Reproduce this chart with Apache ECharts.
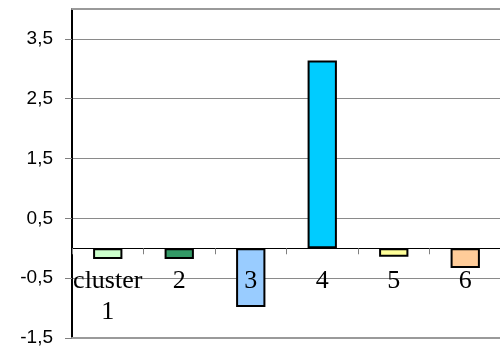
<!DOCTYPE html>
<html>
<head>
<meta charset="utf-8">
<script src="https://cdn.jsdelivr.net/npm/echarts@6/dist/echarts.min.js"></script>
<style>
  html, body { margin: 0; padding: 0; background: #fff; }
  #chart { width: 500px; height: 347px; }
</style>
</head>
<body>
<div id="chart"></div>
<script>
// Cluster scores
const categories = ['cluster\n1', '2', '3', '4', '5', '6'];
const values = [-0.18, -0.18, -0.98, 3.14, -0.14, -0.33];
const barColors = ['#CCFFCC', '#339966', '#99CCFF', '#00CCFF', '#FFFF99', '#FFCC99'];

// Value axis ticks and their printed labels (decimal comma)
const yTicks = [-1.5, -0.5, 0.5, 1.5, 2.5, 3.5];
const yTickLabels = ['-1,5', '-0,5', '0,5', '1,5', '2,5', '3,5'];
const yMin = -1.5;
const yMax = 4;

const chart = echarts.init(document.getElementById('chart'), null, { renderer: 'canvas' });

chart.setOption({
  animation: false,
  grid: { left: 72, right: -1, top: 9, bottom: 9, containLabel: false, outerBoundsMode: 'none' },
  xAxis: [
    {
      // category axis drawn along the zero line (shifted up after layout)
      type: 'category',
      data: categories,
      position: 'bottom',
      offset: 0,
      axisLine: { onZero: false, lineStyle: { color: '#000', width: 1 } },
      axisTick: { show: true, inside: false, length: 6, alignWithLabel: false, interval: 0, lineStyle: { color: '#808080' } },
      axisLabel: {
        interval: 0,
        hideOverlap: false,
        margin: 17,
        fontFamily: 'Liberation Serif',
        fontSize: 26,
        lineHeight: 31,
        color: '#000'
      },
      splitLine: { show: false },
      z: 4
    },
    {
      // frame line along the top of the plot
      type: 'category',
      data: categories,
      position: 'top',
      axisLine: { onZero: false, lineStyle: { color: '#9a9a9a', width: 2 } },
      axisTick: { show: false },
      axisLabel: { show: false }
    },
    {
      // frame line along the bottom of the plot
      type: 'category',
      data: categories,
      position: 'bottom',
      axisLine: { onZero: false, lineStyle: { color: '#9a9a9a', width: 2 } },
      axisTick: { show: false },
      axisLabel: { show: false }
    }
  ],
  yAxis: {
    type: 'value',
    min: yMin,
    max: yMax,
    axisLine: { show: true, lineStyle: { color: '#000', width: 2 } },
    axisTick: {
      show: true,
      length: 7,
      customValues: yTicks,
      lineStyle: { color: '#808080' }
    },
    axisLabel: {
      customValues: yTicks,
      margin: 19,
      fontFamily: 'Liberation Sans',
      fontSize: 19,
      color: '#000',
      formatter: function (v) {
        const i = yTicks.findIndex(t => Math.abs(t - v) < 1e-9);
        return i >= 0 ? yTickLabels[i] : '';
      }
    },
    splitLine: {
      show: true,
      showMinLine: false,
      lineStyle: { color: '#8a8a8a', width: 1 }
    }
  },
  series: [
    {
      type: 'bar',
      xAxisIndex: 0,
      data: values.map((v, i) => ({ value: v, itemStyle: { color: barColors[i] } })),
      barWidth: '41%',
      itemStyle: { borderColor: '#000', borderWidth: 2 },
      z: 3
    }
  ]
});

// Move the category axis up so it sits on value 0
const zeroY = chart.convertToPixel({ yAxisIndex: 0 }, 0);
const minY = chart.convertToPixel({ yAxisIndex: 0 }, yMin);
chart.setOption({ xAxis: [{ offset: -(minY - zeroY) }, {}, {}] });
</script>
</body>
</html>
